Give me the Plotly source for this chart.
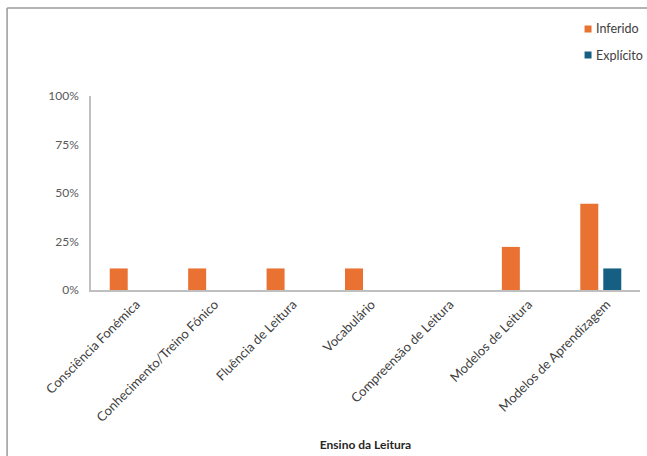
import plotly.graph_objects as go

categories = [
    "Consciência Fonémica",
    "Conhecimento/Treino Fónico",
    "Fluência de Leitura",
    "Vocabulário",
    "Compreensão de Leitura",
    "Modelos de Leitura",
    "Modelos de Aprendizagem",
]
inferido = [1/9, 1/9, 1/9, 1/9, 0, 2/9, 4/9]
explicito = [0, 0, 0, 0, 0, 0, 1/9]
series_names = ["Inferido", "Explícito"]
series_colors = ["#E97132", "#156082"]
y_ticks = [0, 0.25, 0.5, 0.75, 1.0]
y_tick_labels = ["0%", "25%", "50%", "75%", "100%"]

W, H = 647, 456
ML, MR, MT, MB = 91, 6.5, 96, 166
PW, PH = W - ML - MR, H - MT - MB

def px_x(x):
    return (x - ML) / PW

def px_y(y):
    return (H - MB - y) / PH

fig = go.Figure()
for name, vals, color in zip(series_names, [inferido, explicito], series_colors):
    fig.add_bar(x=categories, y=vals, name=name,
                marker=dict(color=color, line=dict(width=0)), showlegend=False)

# compact legend: small square swatch followed by the series name
shapes = []
annotations = []
legend_rows = [29, 55]
for name, color, yc in zip(series_names, series_colors, legend_rows):
    shapes.append(dict(type="rect", xref="paper", yref="paper",
                       x0=px_x(585), x1=px_x(592), y0=px_y(yc + 3.5), y1=px_y(yc - 3.5),
                       fillcolor=color, line=dict(width=0)))
    annotations.append(dict(text=name, xref="paper", yref="paper",
                            x=px_x(594), y=px_y(yc), xanchor="left", yanchor="middle",
                            showarrow=False,
                            font=dict(family="Lato, sans-serif", size=12.5, color="#404040")))

# chart frame
shapes += [
    dict(type="line", xref="paper", yref="paper",
         x0=px_x(7), y0=px_y(8), x1=px_x(W + 2), y1=px_y(8),
         line=dict(color="#9a9a9a", width=1.5)),
    dict(type="line", xref="paper", yref="paper",
         x0=px_x(7), y0=px_y(8), x1=px_x(7), y1=px_y(H + 2),
         line=dict(color="#9a9a9a", width=1.5)),
]

fig.update_layout(
    width=W, height=H,
    margin=dict(l=ML, r=MR, t=MT, b=MB, autoexpand=False),
    paper_bgcolor="white", plot_bgcolor="white",
    barmode="group", bargap=0.414, bargroupgap=0.217,
    font=dict(family="Lato, sans-serif", color="#404040"),
    showlegend=False,
    xaxis=dict(
        showline=True, linecolor="#bfbfbf", linewidth=1.5,
        showgrid=False, tickangle=-45, ticks="",
        ticklabelshift=6,
        tickfont=dict(family="Lato, sans-serif", size=13, color="#404040"),
        title=dict(text="<b>Ensino da Leitura</b>",
                   font=dict(family="Lato, sans-serif", size=12, color="#262626"),
                   standoff=17),
        automargin=False,
    ),
    yaxis=dict(
        range=[0, 1], tickvals=y_ticks, ticktext=y_tick_labels,
        showline=True, linecolor="#bfbfbf", linewidth=1.5,
        showgrid=False, zeroline=False, ticks="",
        ticklabelstandoff=8,
        tickfont=dict(family="Lato, sans-serif", size=12, color="#595959"),
        automargin=False,
    ),
    shapes=shapes,
    annotations=annotations,
)

fig.write_html("out.html")
